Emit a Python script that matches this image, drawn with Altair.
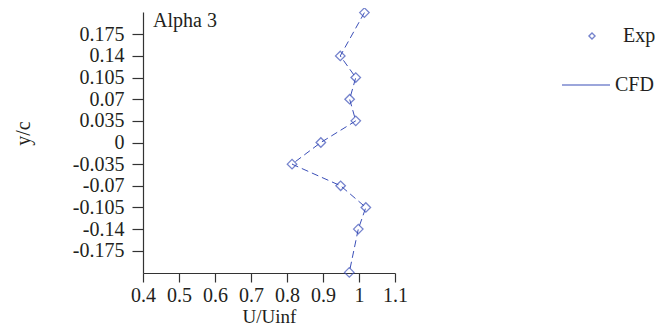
import altair as alt
import pandas as pd

# Data
u_exp = [1.015, 0.948, 0.991, 0.974, 0.991, 0.894, 0.814, 0.949, 1.019, 0.998, 0.973]
y_exp = [0.21, 0.14, 0.105, 0.07, 0.035, 0.0, -0.035, -0.07, -0.105, -0.14, -0.21]
x_ticks = [0.4, 0.5, 0.6, 0.7, 0.8, 0.9, 1.0, 1.1]
y_ticks = [-0.175, -0.14, -0.105, -0.07, -0.035, 0, 0.035, 0.07, 0.105, 0.14, 0.175]
annot_text = ["Alpha 3"]
annot_x = [0.428]
annot_y = [0.197]

BLUE = "#3b4fb8"
FONT = "Liberation Serif"
TXT = "#231f20"
FS = 20

df = pd.DataFrame({"U": u_exp, "y": y_exp, "idx": list(range(len(u_exp)))})
df["series"] = "Exp"
df["model"] = "CFD"

xenc = alt.X("U:Q", scale=alt.Scale(domain=[0.4, 1.1], nice=False, zero=False),
             axis=alt.Axis(title="U/Uinf", values=x_ticks, format=".1~f", grid=False,
                           labelOverlap=False, labelFlush=False,
                           tickSize=9, labelPadding=3, titleFontSize=19,
                           titleBaseline="alphabetic", titleY=49))
yenc = alt.Y("y:Q", scale=alt.Scale(domain=[-0.211, 0.211], nice=False, zero=False),
             axis=alt.Axis(title="y/c", values=y_ticks, labelExpr="'' + datum.value",
                           grid=False, labelOverlap=False, labelFlush=False,
                           tickSize=11, labelPadding=8,
                           titleX=-110, titleY=121))

line = alt.Chart(df).mark_line(strokeDash=[7, 4], strokeWidth=1).encode(
    x=xenc, y=yenc, order="idx:Q",
    color=alt.Color("model:N", scale=alt.Scale(domain=["CFD"], range=[BLUE]),
                    legend=alt.Legend(title=None, orient="none", legendX=418, legendY=48,
                                      symbolSize=2304, symbolStrokeWidth=1.2,
                                      symbolDash=[1, 0], labelOffset=4,
                                      labelFont=FONT, labelFontSize=FS, labelColor=TXT)),
)

points = alt.Chart(df).mark_point(shape="diamond", filled=False, size=90,
                                  strokeWidth=1.3, color=BLUE).encode(
    x=xenc, y=yenc,
    shape=alt.Shape("series:N", scale=alt.Scale(domain=["Exp"], range=["diamond"]),
                    legend=alt.Legend(title=None, orient="none", legendX=439, legendY=14,
                                      symbolSize=38, symbolStrokeColor=BLUE,
                                      symbolFillColor="white", symbolStrokeWidth=1.3,
                                      labelOffset=21,
                                      labelFont=FONT, labelFontSize=FS, labelColor=TXT)),
)

annot_df = pd.DataFrame({"t": annot_text, "U": annot_x, "y": annot_y})
annot = alt.Chart(annot_df).mark_text(align="left", baseline="middle", font=FONT,
                                      fontSize=FS, color=TXT).encode(
    x=xenc, y=yenc, text="t:N")

chart = alt.layer(line, points, annot).properties(
    width=252, height=261,
    autosize=alt.AutoSizeParams(type="none"),
    padding={"left": 135, "top": 4, "right": 260, "bottom": 54},
).configure_view(stroke=None).configure_axis(
    labelFont=FONT, labelFontSize=FS, labelColor=TXT,
    titleFont=FONT, titleFontSize=FS, titleColor=TXT, titleFontWeight="normal",
    domainColor="#333333", tickColor="#333333", domainWidth=1.2, tickWidth=1.2,
).configure_legend(labelFont=FONT)

chart.save("out.html", embed_options={"renderer": "svg", "actions": False})
